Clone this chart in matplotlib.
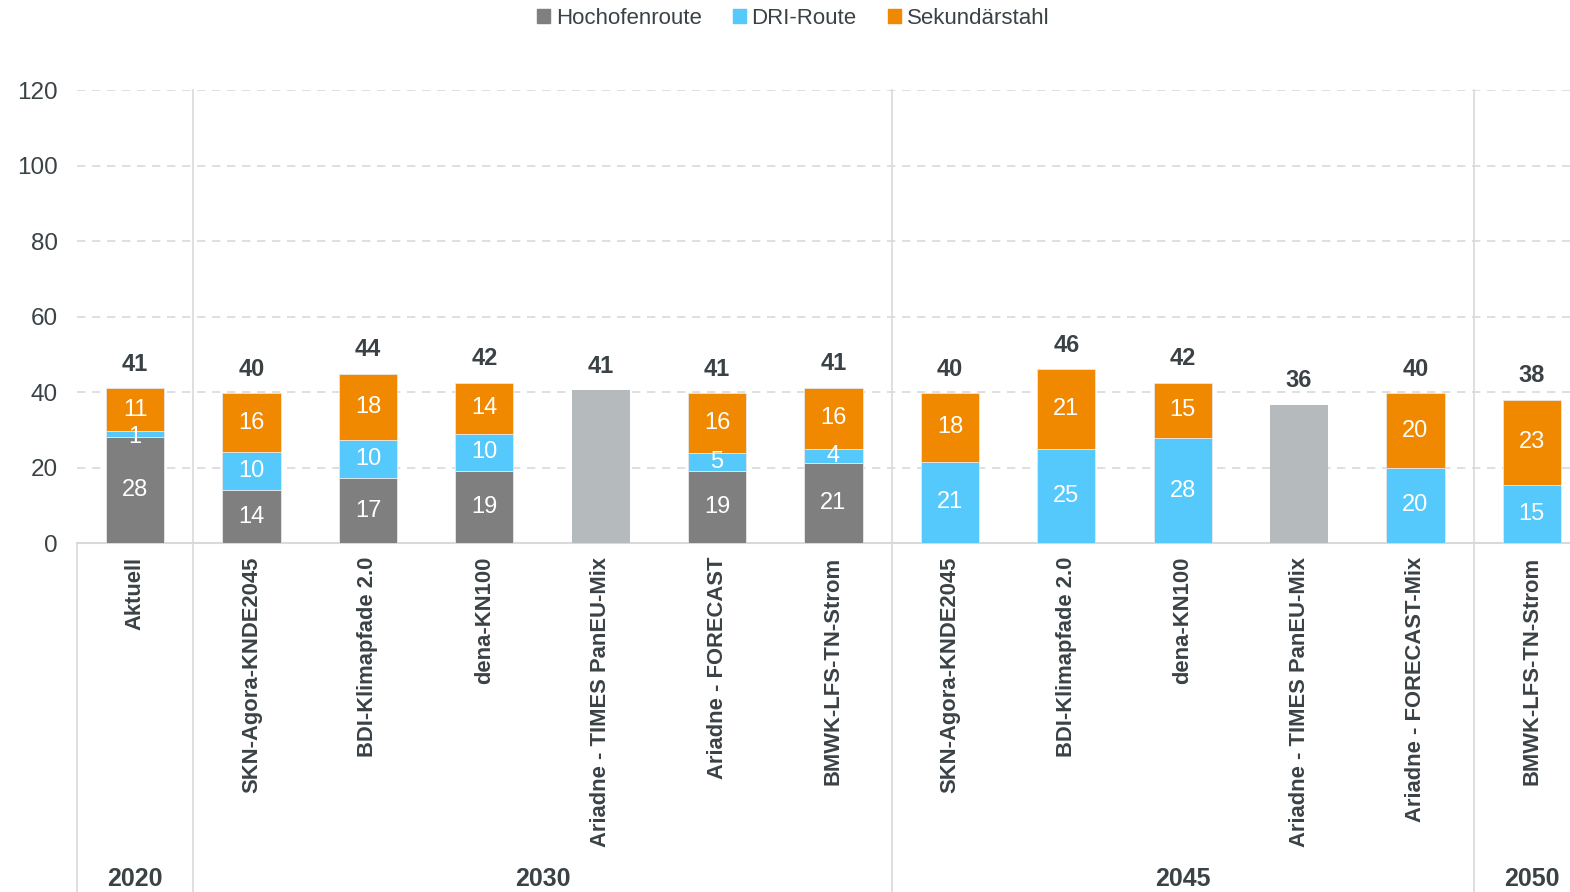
import numpy as np
import matplotlib.pyplot as plt
from matplotlib.patches import Patch

categories = ["Aktuell", "SKN-Agora-KNDE2045", "BDI-Klimapfade 2.0", "dena-KN100",
              "Ariadne - TIMES PanEU-Mix", "Ariadne - FORECAST", "BMWK-LFS-TN-Strom",
              "SKN-Agora-KNDE2045", "BDI-Klimapfade 2.0", "dena-KN100",
              "Ariadne - TIMES PanEU-Mix", "Ariadne - FORECAST-Mix", "BMWK-LFS-TN-Strom"]
hochofen = [28.2, 14.0, 17.2, 19.1, 0, 19.1, 21.2, 0, 0, 0, 0, 0, 0]
dri = [1.4, 10.1, 10.1, 9.8, 0, 4.7, 3.7, 21.5, 24.9, 27.8, 0, 19.9, 15.4]
sekundaer = [11.4, 15.6, 17.5, 13.5, 0, 15.9, 16.2, 18.2, 21.2, 14.6, 0, 19.8, 22.5]
gesamt_nur = [0, 0, 0, 0, 40.5, 0, 0, 0, 0, 0, 36.6, 0, 0]
hochofen_lbl = ["28", "14", "17", "19", "", "19", "21", "", "", "", "", "", ""]
dri_lbl = ["1", "10", "10", "10", "", "5", "4", "21", "25", "28", "", "20", "15"]
sek_lbl = ["11", "16", "18", "14", "", "16", "16", "18", "21", "15", "", "20", "23"]
totals = [41, 40, 44, 42, 41, 41, 41, 40, 46, 42, 36, 40, 38]
groups = ["2020", "2030", "2045", "2050"]
group_pos = [0, 3.5, 9, 12]
separators = [0.5, 6.5, 11.5]

c_h = "#7f7f7f"
c_d = "#56c9fc"
c_s = "#f08800"
c_g = "#b5babd"
txt = "#3a4246"

plt.rcParams['font.family'] = ['Liberation Sans', 'DejaVu Sans']

fig = plt.figure(figsize=(15.7, 8.92), dpi=100)
ax = fig.add_axes([77/1570, 1-543/892, 1-77/1570, 453/892])

x = np.arange(len(categories))
w = 0.5
h = np.array(hochofen)
d = np.array(dri)
s = np.array(sekundaer)
ax.bar(x, h, w, color=c_h, edgecolor="#e8e8e8", linewidth=0.6, zorder=3)
ax.bar(x, d, w, bottom=h, color=c_d, edgecolor="#e8e8e8", linewidth=0.6, zorder=3)
ax.bar(x, s, w, bottom=h+d, color=c_s, edgecolor="#e8e8e8", linewidth=0.6, zorder=3)
ax.bar(x, gesamt_nur, w, color=c_g, zorder=3)

for i in range(len(x)):
    if hochofen_lbl[i]:
        ax.text(x[i], h[i]/2, hochofen_lbl[i], ha="center", va="center", color="white", fontsize=17, zorder=4)
    if dri_lbl[i]:
        yy = h[i] + d[i]/2
        if d[i] < 2:
            yy = h[i] + d[i]/2 - 0.8
        ax.text(x[i], yy, dri_lbl[i], ha="center", va="center", color="white", fontsize=17, zorder=4)
    if sek_lbl[i]:
        ax.text(x[i], h[i]+d[i]+s[i]/2, sek_lbl[i], ha="center", va="center", color="white", fontsize=17, zorder=4)
    top = h[i] + d[i] + s[i] + gesamt_nur[i]
    ax.text(x[i], top + 3.3, str(totals[i]), ha="center", va="bottom", color=txt,
            fontsize=17, fontweight="bold", zorder=4)

ax.set_ylim(0, 120)
ax.set_xlim(-0.5, (1570-135)/116.4)
ax.set_yticks(range(0, 121, 20))
ax.yaxis.grid(True, color="#d9d9d9", linestyle=(0, (5, 4)), linewidth=1.2, zorder=0)
ax.tick_params(axis="y", length=0, labelsize=17.5, labelcolor=txt, pad=14)
ax.set_xticks(x)
ax.set_xticklabels(categories, rotation=90, fontsize=15.8, fontweight="bold", color=txt, va="top")
ax.tick_params(axis="x", length=0, pad=10)
for sp in ["left", "right", "top"]:
    ax.spines[sp].set_visible(False)
ax.spines["bottom"].set_color("#d9d9d9")
ax.spines["bottom"].set_linewidth(1.5)

trans = ax.get_xaxis_transform()
bottom = -349/453
for p in separators:
    ax.plot([p, p], [1.0, bottom], transform=trans, color="#d9d9d9", linewidth=1.2, clip_on=False)
ax.plot([-0.5, -0.5], [0, bottom], transform=trans, color="#d9d9d9", linewidth=1.2, clip_on=False)
for g, gp in zip(groups, group_pos):
    ax.text(gp, -336/453, g, transform=trans, ha="center", va="center", fontsize=18,
            fontweight="bold", color=txt)

handles = [Patch(color=c_h), Patch(color=c_d), Patch(color=c_s)]
fig.legend(handles, ["Hochofenroute", "DRI-Route", "Sekundärstahl"], loc="center",
           bbox_to_anchor=(793/1570, 1-18/892), ncol=3, frameon=False, fontsize=16,
           handlelength=0.6, handleheight=0.6, handletextpad=0.25, columnspacing=1.4,
           labelcolor=txt)

fig.savefig("out.png", dpi=100)
